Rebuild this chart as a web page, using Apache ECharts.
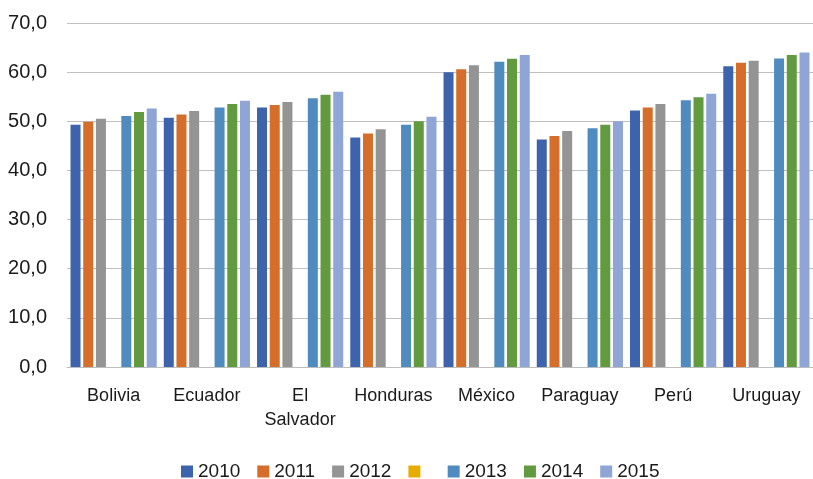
<!DOCTYPE html>
<html>
<head>
<meta charset="utf-8">
<script src="https://cdn.jsdelivr.net/npm/echarts@6/dist/echarts.min.js"></script>
<style>
	html, body { margin: 0; padding: 0; background: #fff; }
	#chart { width: 813px; height: 479px; }
</style>
</head>
<body>
<div id="chart"></div>
<script>
// data
var countries = ['Bolivia', 'Ecuador', 'El Salvador', 'Honduras', 'México', 'Paraguay', 'Perú', 'Uruguay'];
var years = ['2010', '2011', '2012', ' ', '2013', '2014', '2015'];
var v2010 = [49.3, 50.7, 52.8, 46.7, 60.0, 46.3, 52.2, 61.2];
var v2011 = [49.9, 51.4, 53.3, 47.5, 60.6, 47.0, 52.8, 61.9];
var v2012 = [50.5, 52.1, 53.9, 48.4, 61.4, 48.0, 53.5, 62.3];
var vBlank = [null, null, null, null, null, null, null, null];
var v2013 = [51.1, 52.8, 54.7, 49.3, 62.1, 48.6, 54.3, 62.8];
var v2014 = [51.9, 53.5, 55.4, 50.0, 62.7, 49.3, 54.9, 63.5];
var v2015 = [52.6, 54.2, 56.0, 50.9, 63.5, 50.0, 55.6, 64.0];
var yTicks = [0, 70, 10]; // min, max, interval

var seriesValues = [v2010, v2011, v2012, vBlank, v2013, v2014, v2015];
var colors = ['#3d63ad', '#d56e2a', '#949494', '#e6ad00', '#4f8bbf', '#629a3f', '#8fa5d6'];
var font = 'Liberation Sans, Arial, sans-serif';

var chart = echarts.init(document.getElementById('chart'));

var series = [];
for (var i = 0; i < years.length; i++) {
	series.push({
		name: years[i],
		type: 'bar',
		data: seriesValues[i],
		barWidth: 10,
		barGap: '27%',
		itemStyle: { color: colors[i] }
	});
}

var option = {
	animation: false,
	color: colors,
	textStyle: { fontFamily: font },
	grid: { left: 67, right: 0, top: 23, bottom: 112 },
	legend: {
		data: years,
		left: 176,
		top: 457,
		icon: 'rect',
		itemWidth: 12,
		itemHeight: 12,
		itemGap: 17,
		textStyle: { fontSize: 19, color: '#1a1a1a', fontFamily: font }
	},
	xAxis: {
		type: 'category',
		data: countries,
		axisTick: { show: false },
		axisLine: { lineStyle: { color: '#bdbdbd', width: 1 } },
		axisLabel: {
			interval: 0,
			margin: 17,
			fontSize: 18,
			lineHeight: 24,
			color: '#1a1a1a',
			fontFamily: font,
			formatter: function (v) { return v.replace('El ', 'El\n'); }
		}
	},
	yAxis: {
		type: 'value',
		min: yTicks[0],
		max: yTicks[1],
		interval: yTicks[2],
		axisLine: { show: false },
		axisTick: { show: false },
		splitLine: { lineStyle: { color: '#c0c0c0', width: 1 } },
		axisLabel: {
			margin: 20,
			fontSize: 20,
			color: '#1a1a1a',
			formatter: function (v) { return v.toFixed(1).replace('.', ','); }
		}
	},
	series: series
};

chart.setOption(option);
</script>
</body>
</html>
